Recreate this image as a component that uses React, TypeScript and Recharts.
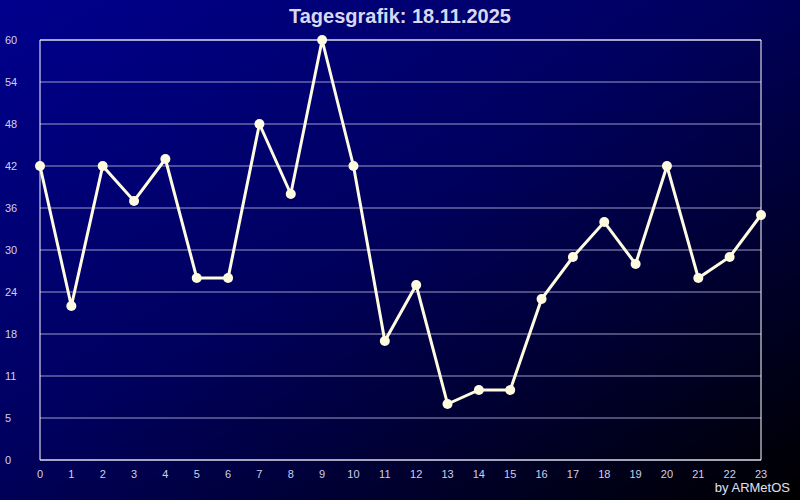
import { LineChart, Line, XAxis, YAxis, CartesianGrid, ReferenceArea } from 'recharts'

const hours = [0, 1, 2, 3, 4, 5, 6, 7, 8, 9, 10, 11, 12, 13, 14, 15, 16, 17, 18, 19, 20, 21, 22, 23]
const values = [42, 22, 42, 37, 43, 26, 26, 48, 38, 60, 42, 17, 25, 8, 10, 10, 23, 29, 34, 28, 42, 26, 29, 35]
const yTicks = [0, 6, 12, 18, 24, 30, 36, 42, 48, 54, 60]
const yLabels = ['0', '5', '11', '18', '24', '30', '36', '42', '48', '54', '60']

const data = hours.map((h, i) => ({ hour: h, value: values[i] }))

const tickColor = '#d0d0e8'
const lineColor = '#fffbe0'

function YTick({ y, payload }: any) {
  const idx = yTicks.indexOf(payload.value)
  return (
    <text x={5} y={y} dy={4} textAnchor="start" fill={tickColor} fontSize={11} fontFamily="Liberation Sans, Arial, sans-serif">
      {yLabels[idx]}
    </text>
  )
}

export default function App() {
  return (
    <div
      style={{
        position: 'absolute',
        left: 0,
        top: 0,
        width: 800,
        height: 500,
        background: 'linear-gradient(to bottom right, #00008e 0%, #000060 45%, #000000 100%)',
        fontFamily: 'Liberation Sans, Arial, sans-serif',
      }}
    >
      <div
        style={{
          position: 'absolute',
          top: 5,
          width: 800,
          textAlign: 'center',
          color: '#d8d8f0',
          fontSize: 20,
          fontWeight: 'bold',
        }}
      >
        Tagesgrafik: 18.11.2025
      </div>
      <LineChart width={800} height={500} data={data} margin={{ top: 40, right: 39, bottom: 0, left: 10 }}>
        <CartesianGrid horizontal vertical={false} stroke="#9a9ac4" strokeWidth={1} />
        <XAxis
          dataKey="hour"
          type="number"
          domain={[0, 23]}
          ticks={hours}
          interval={0}
          axisLine={false}
          tickLine={false}
          height={40}
          tick={{ fill: tickColor, fontSize: 11, dy: 2 }}
        />
        <YAxis
          type="number"
          domain={[0, 60]}
          ticks={yTicks}
          interval={0}
          axisLine={false}
          tickLine={false}
          width={30}
          tick={<YTick />}
        />
        <ReferenceArea x1={0} x2={23} y1={0} y2={60} fill="none" stroke="#ffffff" strokeWidth={1} ifOverflow="visible" />
        <Line
          type="linear"
          dataKey="value"
          stroke={lineColor}
          strokeWidth={3}
          dot={{ r: 5, fill: lineColor, stroke: 'none' }}
          activeDot={false}
          isAnimationActive={false}
        />
      </LineChart>
      <div
        style={{
          position: 'absolute',
          right: 10,
          bottom: 5,
          color: '#e0e0f0',
          fontSize: 13,
        }}
      >
        by ARMetOS
      </div>
    </div>
  )
}
